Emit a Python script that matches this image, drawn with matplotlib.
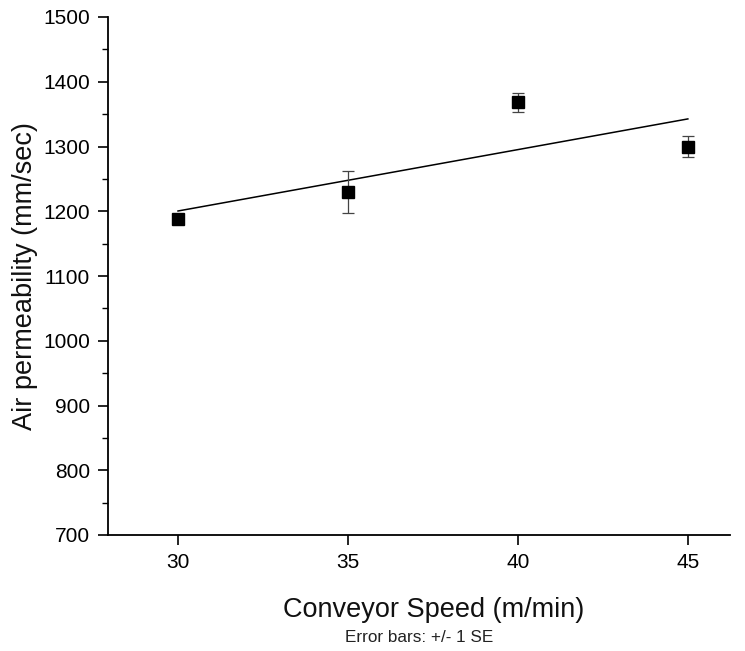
import numpy as np
import matplotlib
matplotlib.use("Agg")
import matplotlib.pyplot as plt
from matplotlib.ticker import MultipleLocator

speed = [30, 35, 40, 45]
permeability = [1188, 1230, 1368, 1300]
se = [4, 32, 15, 16]
yticks = [700, 800, 900, 1000, 1100, 1200, 1300, 1400, 1500]
xticks = [30, 35, 40, 45]

plt.rcParams['font.family'] = ['Liberation Sans', 'DejaVu Sans']

fig = plt.figure(figsize=(7.45, 6.51), dpi=100)
ax = fig.add_axes([108/745, 1-535/651, (730-108)/745, (535-17)/651])

ax.errorbar(speed, permeability, yerr=se, fmt='s', color='black', ms=8,
            ecolor='#444444', elinewidth=0.9, capsize=4, capthick=0.9, zorder=3)
coef = np.polyfit(speed, permeability, 1)
xs = np.array([speed[0], speed[-1]])
ax.plot(xs, np.polyval(coef, xs), color='black', lw=1.1, zorder=2)

ax.set_xlim(27.94, 46.24)
ax.set_ylim(700, 1500)
ax.set_xticks(xticks)
ax.set_yticks(yticks)
ax.yaxis.set_minor_locator(MultipleLocator(50))
for s in ['top', 'right']:
    ax.spines[s].set_visible(False)
for s in ['left', 'bottom']:
    ax.spines[s].set_linewidth(1.3)
ax.tick_params(axis='both', which='major', direction='out', length=7, width=1.2,
               labelsize=15, colors='black', pad=6)
ax.tick_params(axis='y', which='minor', direction='out', length=4, width=1.0)
ax.set_xlabel('Conveyor Speed (m/min)', fontsize=19.5, color='#111111')
ax.xaxis.set_label_coords(0.523, -0.12)
ax.set_ylabel('Air permeability (mm/sec)', fontsize=19.5, labelpad=4, color='#111111')
fig.text(419/745, 1-638/651, 'Error bars: +/- 1 SE', ha='center', va='center',
         fontsize=12.3, color='#222222')

fig.savefig('out.png', dpi=100)
